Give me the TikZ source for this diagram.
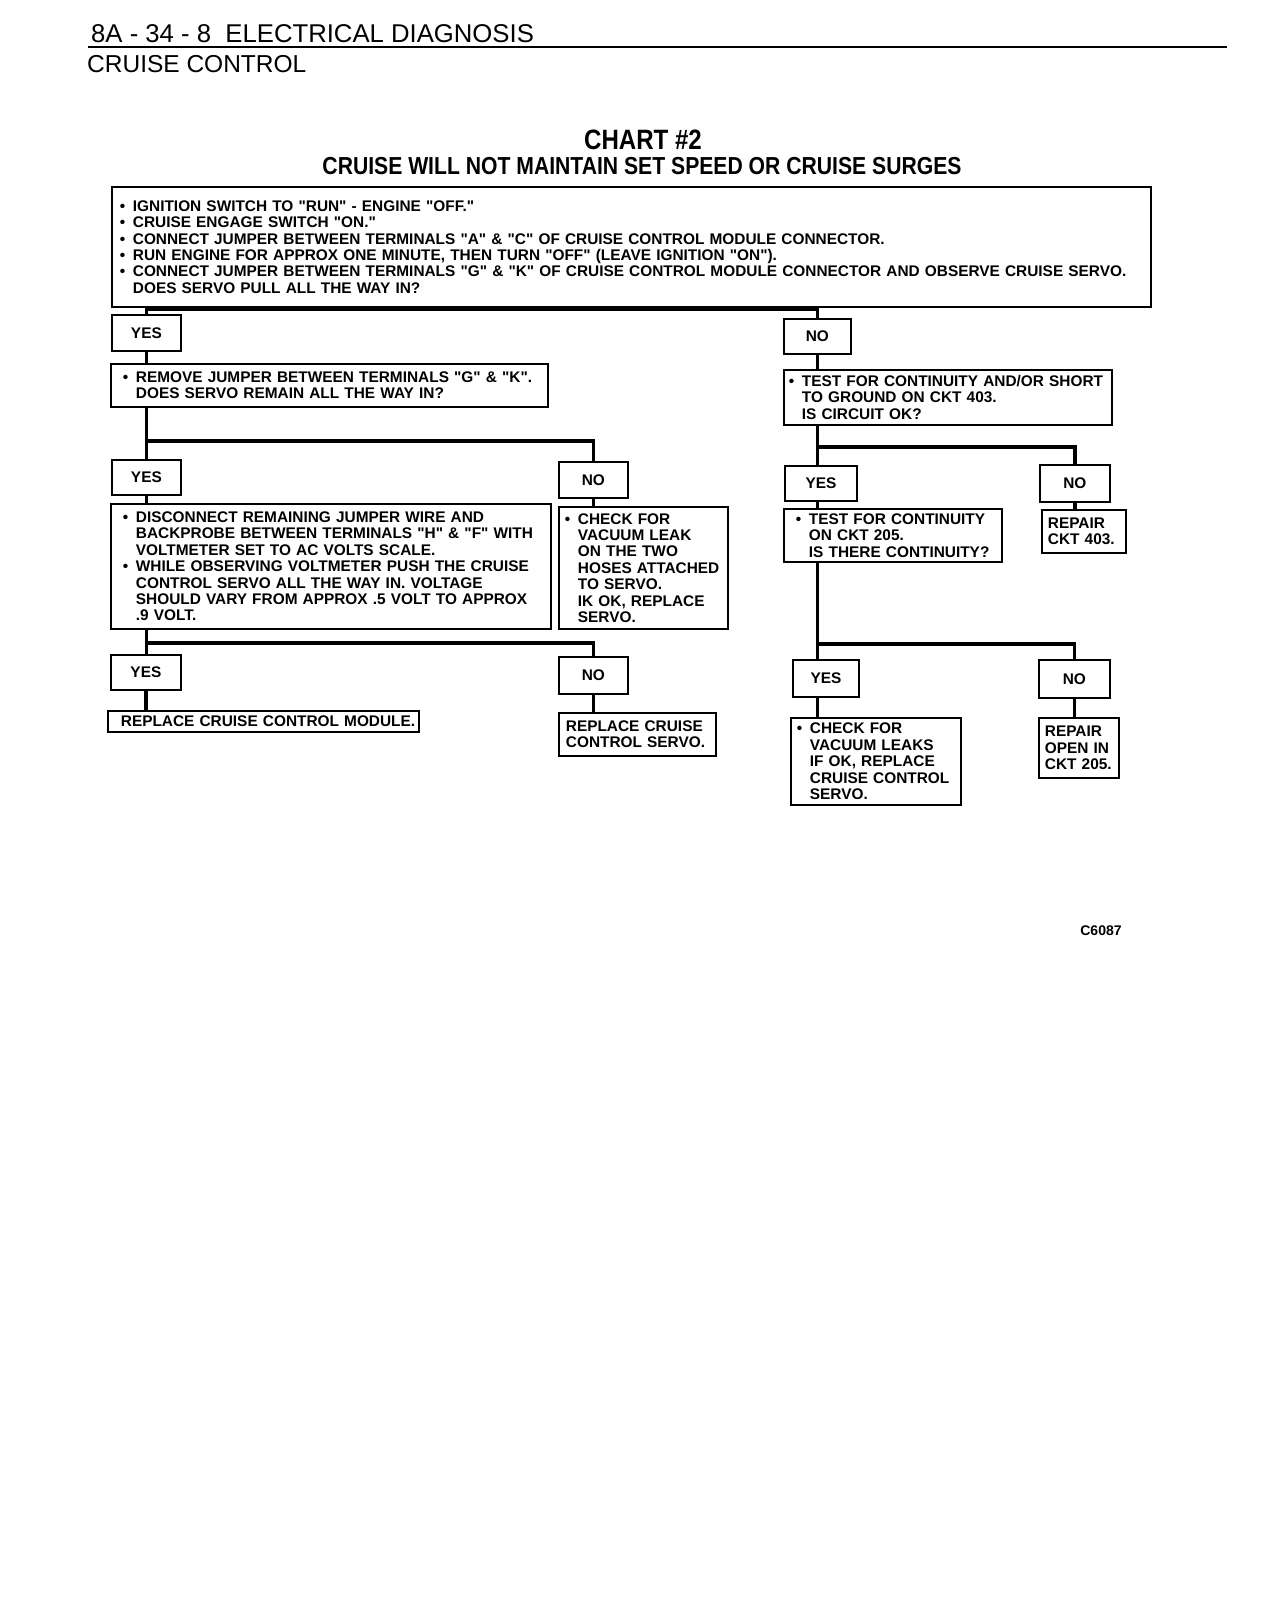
\documentclass[tikz,border=0pt]{standalone}
\usepackage{fontspec}
\setmainfont{Liberation Sans}[Ligatures=TeXOff]
\newfontfamily\condfont{Liberation Sans}[FakeStretch=0.86,Ligatures=TeXOff]
\newcommand{\bul}{\makebox[13pt][l]{\textbullet}}
\newcommand{\hng}{\hspace*{13pt}}
\begin{document}
\begin{tikzpicture}[x=1pt,y=-1pt,
  chartbox/.style={draw, line width=1.8pt, anchor=north west, align=left, inner xsep=8pt, inner ysep=2pt, font=\fontsize{15.4}{16.4}\selectfont\bfseries},
  answer/.style={draw, line width=1.8pt, anchor=north west, inner sep=0pt, font=\fontsize{15.4}{16.4}\selectfont\bfseries},
  link/.style={line width=3.4pt}]
\useasboundingbox (0,0) rectangle (1264,1616);
\node[anchor=base west, inner sep=0pt, font=\fontsize{25.7}{30}\selectfont] (hdr) at (91,43) {8A - 34 - 8 \ ELECTRICAL DIAGNOSIS};
\draw[line width=1.4pt] (88,47) -- (1227,47);
\node[anchor=base west, inner sep=0pt, font=\fontsize{24.5}{30}\selectfont] (sect) at (87,73) {CRUISE CONTROL};
\node[anchor=base, inner sep=0pt, font={\fontsize{28}{30}\condfont\bfseries}] (chart) at (643,150) {CHART \#2};
\node[anchor=base, inner sep=0pt, font={\fontsize{24.6}{28}\condfont\bfseries}] (title) at (642,175) {CRUISE WILL NOT MAINTAIN SET SPEED OR CRUISE SURGES};
\node[chartbox, text width=1023pt, minimum height=120pt] (q1) at (111,186) {\bul IGNITION SWITCH TO "RUN" - ENGINE "OFF."\\
\bul CRUISE ENGAGE SWITCH "ON."\\
\bul CONNECT JUMPER BETWEEN TERMINALS "A" \& "C" OF CRUISE CONTROL MODULE CONNECTOR.\\
\bul RUN ENGINE FOR APPROX ONE MINUTE, THEN TURN "OFF" (LEAVE IGNITION "ON").\\
\bul CONNECT JUMPER BETWEEN TERMINALS "G" \& "K" OF CRUISE CONTROL MODULE CONNECTOR AND OBSERVE CRUISE SERVO.\\
\hng DOES SERVO PULL ALL THE WAY IN?};
\node[answer, minimum width=69pt, minimum height=36pt] (yes1) at (111,314) {YES};
\node[answer, minimum width=67pt, minimum height=35pt] (no1) at (783,318) {NO};
\node[chartbox, inner xsep=12pt, text width=413pt, minimum height=43pt] (q2) at (110,363) {\bul REMOVE JUMPER BETWEEN TERMINALS "G" \& "K".\\
\hng DOES SERVO REMAIN ALL THE WAY IN?};
\node[chartbox, inner xsep=5pt, text width=318pt, minimum height=55pt] (q4) at (783,369) {\bul TEST FOR CONTINUITY AND/OR SHORT\\
\hng TO GROUND ON CKT 403.\\
\hng IS CIRCUIT OK?};
\node[answer, minimum width=69pt, minimum height=35pt] (yes2) at (111,459) {YES};
\node[answer, minimum width=69pt, minimum height=36pt] (no2) at (558,461) {NO};
\node[chartbox, inner xsep=12pt, text width=416pt, minimum height=125pt] (q3) at (110,503) {\bul DISCONNECT REMAINING JUMPER WIRE AND\\
\hng BACKPROBE BETWEEN TERMINALS "H" \& "F" WITH\\
\hng VOLTMETER SET TO AC VOLTS SCALE.\\
\bul WHILE OBSERVING VOLTMETER PUSH THE CRUISE\\
\hng CONTROL SERVO ALL THE WAY IN. VOLTAGE\\
\hng SHOULD VARY FROM APPROX .5 VOLT TO APPROX\\
\hng .9 VOLT.};
\node[chartbox, inner xsep=6pt, text width=157pt, minimum height=122pt] (fix1) at (558,506) {\bul CHECK FOR\\
\hng VACUUM LEAK\\
\hng ON THE TWO\\
\hng HOSES ATTACHED\\
\hng TO SERVO.\\
\hng IK OK, REPLACE\\
\hng SERVO.};
\node[answer, minimum width=70pt, minimum height=35pt] (yes3) at (110,654) {YES};
\node[answer, minimum width=69pt, minimum height=37pt] (no3) at (558,656) {NO};
\node[chartbox, inner xsep=3pt, text width=305pt, minimum height=21pt, inner ysep=1pt] (fix2) at (107,710) {\hspace*{10pt}REPLACE CRUISE CONTROL MODULE.};
\node[chartbox, inner xsep=7pt, text width=143pt, minimum height=43pt] (fix3) at (558,712) {REPLACE CRUISE\\
CONTROL SERVO.};
\node[answer, minimum width=72pt, minimum height=35pt] (yes4) at (784,465) {YES};
\node[answer, minimum width=70pt, minimum height=37pt] (no4) at (1039,464) {NO};
\node[chartbox, inner xsep=12pt, text width=194pt, minimum height=53pt] (q5) at (783,508) {\bul TEST FOR CONTINUITY\\
\hng ON CKT 205.\\
\hng IS THERE CONTINUITY?};
\node[chartbox, inner xsep=6pt, text width=72pt, minimum height=43pt] (fix4) at (1041,509) {REPAIR\\
CKT 403.};
\node[answer, minimum width=66pt, minimum height=37pt] (yes5) at (792,659) {YES};
\node[answer, minimum width=71pt, minimum height=38pt] (no5) at (1038,659) {NO};
\node[chartbox, inner xsep=6pt, text width=158pt, minimum height=87pt] (fix5) at (790,717) {\bul CHECK FOR\\
\hng VACUUM LEAKS\\
\hng IF OK, REPLACE\\
\hng CRUISE CONTROL\\
\hng SERVO.};
\node[chartbox, inner xsep=6pt, text width=68pt, minimum height=60pt] (fix6) at (1038,717) {REPAIR\\
OPEN IN\\
CKT 205.};
\node[font=\fontsize{14}{16}\selectfont\bfseries] (code) at (1101,931) {C6087};
\coordinate (j1) at (145.5,309);
\coordinate (j2) at (145.5,441);
\coordinate (j3) at (145.5,643);
\coordinate (j4) at (816.5,447);
\coordinate (j5) at (816.5,644);
\draw[link] (q1.south -| yes1) -- (yes1.north);
\draw[link] (j1) -| (no1.north);
\draw[link] (yes1.south) -- (yes1.south |- q2.north);
\draw[link] (no1.south) -- (no1.south |- q4.north);
\draw[link] (q2.south -| yes1) -- (yes2.north);
\draw[link] (j2) -| (no2.north);
\draw[link] (yes2.south) -- (yes2.south |- q3.north);
\draw[link] (no2.south) -- (no2.south |- fix1.north);
\draw[link] (q3.south -| yes1) -- (yes3.north -| yes1);
\draw[link] (j3) -| (no3.north);
\draw[link] (yes3.south) -- (yes3.south |- fix2.north);
\draw[link] (no3.south) -- (no3.south |- fix3.north);
\draw[link] (q4.south -| no1) -- (yes4.north -| no1);
\draw[link] (j4) -| (no4.north);
\draw[link] (yes4.south -| no1) -- (q5.north -| no1);
\draw[link] (no4.south) -- (no4.south |- fix4.north);
\draw[link] (q5.south -| no1) -- (yes5.north -| no1);
\draw[link] (j5) -| (no5.north);
\draw[link] (yes5.south -| no1) -- (fix5.north -| no1);
\draw[link] (no5.south) -- (no5.south |- fix6.north);
\end{tikzpicture}
\end{document}
